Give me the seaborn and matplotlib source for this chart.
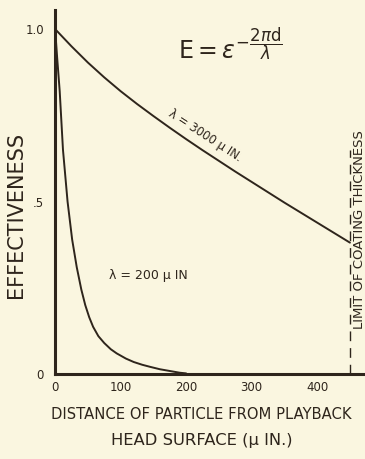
import numpy as np
import pandas as pd
import seaborn as sns
import matplotlib.pyplot as plt

# values
dist_3000 = [0, 25, 50, 75, 100, 125, 150, 175, 200, 225, 250, 275, 300, 325, 350, 375, 400, 425, 450]
eff_3000 = [1.0, 0.950, 0.903, 0.860, 0.820, 0.783, 0.748, 0.714, 0.681, 0.649, 0.618, 0.587,
            0.557, 0.527, 0.497, 0.468, 0.439, 0.410, 0.381]
dist_200 = [0, 3, 7, 12, 19, 26, 33, 40, 46, 52, 58, 66, 75, 85, 94, 108, 120, 133, 145, 160, 175, 190, 200]
eff_200 = [1.0, 0.92, 0.82, 0.65, 0.50, 0.39, 0.31, 0.245, 0.20, 0.165, 0.137, 0.11, 0.09,
           0.072, 0.06, 0.045, 0.035, 0.027, 0.021, 0.014, 0.009, 0.004, 0.002]
coating_limit = 450
limit_top = 0.65
x_ticks = [0, 100, 200, 300, 400]
y_ticks = [0, 0.5, 1.0]
y_tick_labels = ["0", ".5", "1.0"]

bg = "#faf6e0"
ink = "#2e251c"

sns.set_style("white")
plt.rcParams['font.family'] = ['DejaVu Sans']
plt.rcParams['mathtext.fontset'] = 'dejavusans'

fig = plt.figure(figsize=(3.65, 4.59), dpi=100, facecolor=bg)
ax = fig.add_axes([0.151, 0.185, 0.849, 0.793], facecolor=bg)

df1 = pd.DataFrame({"d": dist_3000, "E": eff_3000})
df2 = pd.DataFrame({"d": dist_200, "E": eff_200})
sns.lineplot(data=df1, x="d", y="E", ax=ax, color=ink, lw=1.4)
sns.lineplot(data=df2, x="d", y="E", ax=ax, color=ink, lw=1.4)

# limit of coating thickness
ax.plot([coating_limit, coating_limit], [0, limit_top], color=ink, lw=1.0, ls=(0, (7, 5)))

ax.set_xlim(0, 473)
ax.set_ylim(0, 1.055)
for s in ["top", "right"]:
    ax.spines[s].set_visible(False)
for s in ["left", "bottom"]:
    ax.spines[s].set_color(ink)
    ax.spines[s].set_linewidth(2.2)

ax.set_xticks(x_ticks)
ax.set_yticks(y_ticks)
ax.set_yticklabels(y_tick_labels)
ax.tick_params(axis="both", direction="in", length=6, width=1.2, color=ink,
               labelcolor=ink, labelsize=8.5)
ax.tick_params(axis="y", pad=8)
ax.tick_params(axis="x", pad=5)
ax.set_xlabel("")
ax.set_ylabel("EFFECTIVENESS", fontsize=15, color=ink)
ax.yaxis.set_label_coords(-0.095, 0.437)

fig.text(0.551, 0.096, "DISTANCE OF PARTICLE FROM PLAYBACK", fontsize=10.6, color=ink,
         ha="center", va="center")
fig.text(0.553, 0.041, "HEAD SURFACE (\u03bc IN.)", fontsize=11.8, color=ink,
         ha="center", va="center")

ax.text(188, 0.954, r"$\mathrm{E} = \varepsilon^{-\dfrac{2\pi \mathrm{d}}{\lambda}}$", fontsize=17,
        color=ink, ha="left", va="center")
ax.text(229, 0.69, "\u03bb = 3000 \u03bc IN.", fontsize=8.5, color=ink,
        ha="center", va="center", rotation=-33)
ax.text(143, 0.287, "\u03bb = 200 \u03bc IN", fontsize=9, color=ink,
        ha="center", va="center")
ax.text(464, 0.42, "LIMIT OF COATING THICKNESS", fontsize=9.5, color=ink,
        ha="center", va="center", rotation=90, clip_on=False)

fig.savefig("out.png", dpi=100, facecolor=bg)
